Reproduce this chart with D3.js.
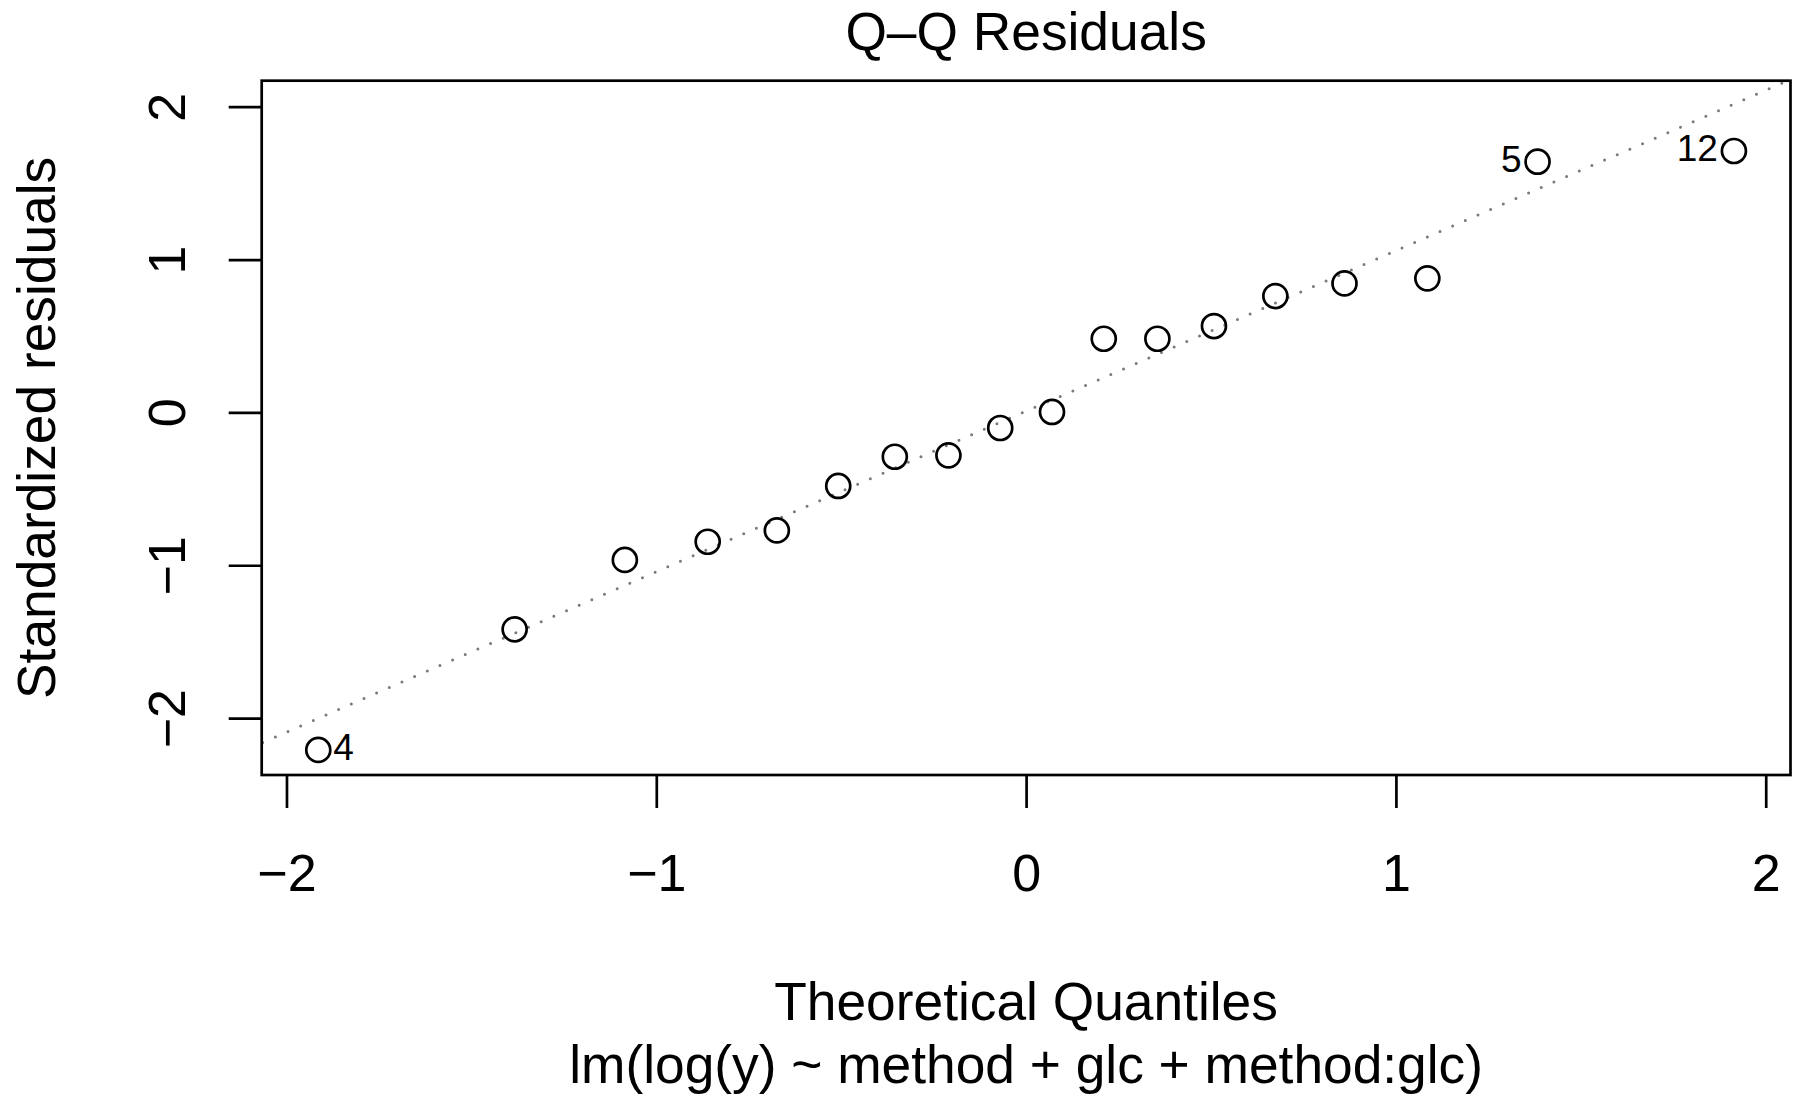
<!DOCTYPE html>
<html><head><meta charset="utf-8">
<script src="https://cdn.jsdelivr.net/npm/d3@7"></script>
<style>
body{margin:0;background:#fff}
svg{display:block}
text{font-family:"Liberation Sans",Arial,Helvetica,sans-serif;fill:#000}
</style>
</head><body>
<svg id="c" width="1795" height="1097"></svg>
<script>
// ---- data ----
const theoretical = [-1.914,-1.383,-1.085,-0.861,-0.674,-0.508,-0.355,-0.210,-0.070,0.070,0.210,0.355,0.508,0.674,0.861,1.085,1.383,1.914];
const residuals   = [-2.208,-1.419,-0.965,-0.846,-0.772,-0.481,-0.290,-0.281,-0.102,0.003,0.482,0.482,0.565,0.761,0.844,0.877,1.640,1.710];
const labelIndex  = [0, 16, 17];
const labelText   = ["4", "5", "12"];
const labelSide   = ["right", "left", "left"];
const xTicks = [-2, -1, 0, 1, 2];
const yTicks = [-2, -1, 0, 1, 2];
const xDomain = [-2.067, 2.067];
const yDomain = [-2.372, 2.170];
const qqIntercept = 0.008;
const qqSlope = 1.050;
const title = "Q\u2013Q Residuals";
const xTitle = "Theoretical Quantiles";
const xSub = "lm(log(y) ~ method + glc + method:glc)";
const yTitle = "Standardized residuals";

// ---- layout ----
const L = 261.7, R = 1790.5, T = 80.7, B = 775;
const FS = 53.3, TFS = 52, LFS = 37;
const svg = d3.select("#c");
const x = d3.scaleLinear().domain(xDomain).range([L, R]);
const y = d3.scaleLinear().domain(yDomain).range([B, T]);
const fmt = (v) => (v < 0 ? "\u2212" : "") + Math.abs(v);

svg.append("defs").append("clipPath").attr("id","clip")
  .append("rect").attr("x",L).attr("y",T).attr("width",R-L).attr("height",B-T);

// qq line (dotted gray)
const x0 = xDomain[0]-0.1, x1 = xDomain[1]+0.1;
svg.append("line")
  .attr("clip-path","url(#clip)")
  .attr("x1", x(x0)).attr("y1", y(qqIntercept + qqSlope*x0))
  .attr("x2", x(x1)).attr("y2", y(qqIntercept + qqSlope*x1))
  .attr("stroke","#7a7a7a").attr("stroke-width",3)
  .attr("stroke-linecap","round").attr("stroke-dasharray","0 13.8");

// points
svg.append("g").selectAll("circle").data(theoretical).join("circle")
  .attr("cx", (d)=>x(d)).attr("cy", (d,i)=>y(residuals[i]))
  .attr("r", 12).attr("fill","none").attr("stroke","#000").attr("stroke-width",2.7);

// point labels
svg.append("g").selectAll("text").data(labelIndex).join("text")
  .attr("x", (d,k)=> x(theoretical[d]) + (labelSide[k]==="right" ? 15 : -16))
  .attr("y", (d)=> y(residuals[d]) + 10)
  .attr("text-anchor", (d,k)=> labelSide[k]==="right" ? "start" : "end")
  .attr("font-size", LFS)
  .text((d,k)=>labelText[k]);

// box
svg.append("rect").attr("x",L).attr("y",T).attr("width",R-L).attr("height",B-T)
  .attr("fill","none").attr("stroke","#000").attr("stroke-width",2.7);

// x axis
const gx = svg.append("g").attr("transform",`translate(0,${B})`)
  .call(d3.axisBottom(x).tickValues(xTicks).tickFormat(fmt).tickSize(33).tickSizeOuter(0).tickPadding(0));
gx.select(".domain").remove();
gx.selectAll(".tick line").attr("stroke","#000").attr("stroke-width",2.7);
gx.selectAll(".tick text").attr("y", 891 - B).attr("dy", 0)
  .attr("font-size", TFS).style("fill","#000");

// y axis
const gy = svg.append("g").attr("transform",`translate(${L},0)`)
  .call(d3.axisLeft(y).tickValues(yTicks).tickFormat(fmt).tickSize(33).tickSizeOuter(0).tickPadding(0));
gy.select(".domain").remove();
gy.selectAll(".tick line").attr("stroke","#000").attr("stroke-width",2.7);
gy.selectAll(".tick text")
  .attr("transform","rotate(-90)")
  .attr("x", 0).attr("y", -(L - 185)).attr("dy", 0)
  .attr("text-anchor","middle")
  .attr("font-size", TFS).style("fill","#000");
svg.selectAll("g").attr("font-family", null);

// titles
svg.append("text").attr("x",(L+R)/2).attr("y",50).attr("text-anchor","middle")
  .attr("font-size",FS).text(title);
svg.append("text").attr("x",(L+R)/2).attr("y",1020).attr("text-anchor","middle")
  .attr("font-size",FS).text(xTitle);
svg.append("text").attr("x",(L+R)/2).attr("y",1083).attr("text-anchor","middle")
  .attr("font-size",FS).text(xSub);
svg.append("text").attr("transform",`translate(55,${(T+B)/2}) rotate(-90)`)
  .attr("text-anchor","middle").attr("font-size",FS).text(yTitle);
</script>
</body></html>
